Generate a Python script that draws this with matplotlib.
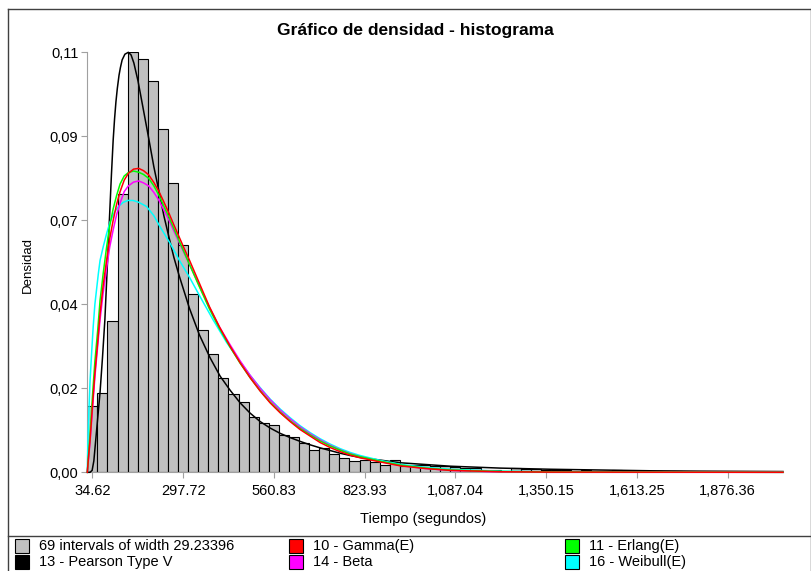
import numpy as np
import matplotlib.pyplot as plt
from matplotlib.patches import Rectangle
from matplotlib.lines import Line2D

plt.rcParams['font.family'] = ['Liberation Sans', 'DejaVu Sans']

# histogram: 69 bins, relative frequency per bin
bin_width = 29.23396
first_center = 34.62
density = [0.0174, 0.0207, 0.0395, 0.0730, 0.1100, 0.1082, 0.1024, 0.0899, 0.0758,
           0.0594, 0.0466, 0.0374, 0.0309, 0.0248, 0.0204, 0.0184, 0.0146, 0.0130,
           0.0124, 0.0098, 0.0093, 0.0076, 0.0058, 0.0063, 0.0048, 0.0037, 0.0029,
           0.0033, 0.0026, 0.0019, 0.0033, 0.0017, 0.0018, 0.0018, 0.0017, 0.0017,
           0.0015, 0.0011, 0.0010, 0.0006, 0.0006, 0.0004, 0.0011, 0.0009, 0.0008,
           0.0006, 0.0005, 0.0006, 0.0004, 0.0005, 0.0004, 0.0004, 0.0005, 0.0003,
           0.0004, 0.0003, 0.0003, 0.0002, 0.0003, 0.0002, 0.0001, 0.0002, 0.0001,
           0.0001, 0.0001, 0.0001, 0.0001, 0.0000, 0.0001]

xtick_labels = ['34.62', '297.72', '560.83', '823.93', '1,087.04', '1,350.15',
                '1,613.25', '1,876.36']
ytick_labels = ['0,00', '0,02', '0,04', '0,07', '0,09', '0,11']
y_max = 0.11

grid_x = [20, 24, 28, 35, 42, 50, 57, 66, 76, 85, 95, 105, 115, 127, 139, 154, 169,
          183, 198, 213, 228, 242, 257, 271, 286, 301, 316, 345, 374, 403, 434, 463,
          492, 521, 550, 579, 608, 637, 666, 695, 724, 753, 782, 811, 870, 927, 1000,
          1072, 1217, 1362, 2037]
gamma_y = [0, 0.0045, 0.0085, 0.0175, 0.026, 0.034, 0.0416, 0.049, 0.0556, 0.0612,
           0.066, 0.0702, 0.0735, 0.0765, 0.0783, 0.0794, 0.0796, 0.0790, 0.0779,
           0.0759, 0.0735, 0.0708, 0.0678, 0.0648, 0.0617, 0.0586, 0.0556, 0.0495,
           0.0434, 0.0381, 0.0330, 0.0287, 0.0248, 0.0213, 0.0182, 0.0156, 0.0133,
           0.0112, 0.0095, 0.0078, 0.0065, 0.0054, 0.0045, 0.0038, 0.0027, 0.0017,
           0.0010, 0.0005, 0.00015, 0.00005, 0]
erlang_y = [0, 0.005, 0.010, 0.020, 0.029, 0.037, 0.045, 0.052, 0.059, 0.0645, 0.069,
            0.0725, 0.0755, 0.0776, 0.0785, 0.0789, 0.0786, 0.0780, 0.0770, 0.0750,
            0.0725, 0.0697, 0.0668, 0.0638, 0.0607, 0.0576, 0.0545, 0.0486, 0.0428,
            0.0377, 0.0328, 0.0286, 0.0248, 0.0214, 0.0184, 0.0158, 0.0135, 0.0115,
            0.0098, 0.0082, 0.0069, 0.0058, 0.0048, 0.0041, 0.0029, 0.0019, 0.0011,
            0.0006, 0.0002, 0.00008, 0]
beta_y = [0, 0.004, 0.008, 0.0165, 0.025, 0.033, 0.040, 0.047, 0.0535, 0.059, 0.0635,
          0.0675, 0.0705, 0.0735, 0.0750, 0.0760, 0.0763, 0.0758, 0.0750, 0.0733,
          0.0712, 0.0687, 0.0660, 0.0632, 0.0603, 0.0574, 0.0545, 0.0488, 0.0432,
          0.0381, 0.0334, 0.0292, 0.0254, 0.0220, 0.0190, 0.0163, 0.0140, 0.0119,
          0.0101, 0.0085, 0.0071, 0.0059, 0.0049, 0.0041, 0.0028, 0.0018, 0.0010,
          0.0005, 0.0001, 0, 0]

weibull_x = [20, 21.5, 23.5, 25, 28, 33, 37, 42, 47, 52, 57, 66, 76, 86, 98, 110, 124,
             138, 152, 167, 182, 192, 213, 231, 260, 289, 318, 347, 385, 424, 463, 492,
             521, 550, 579, 608, 637, 666, 695, 724, 753, 782, 811, 870, 927, 1000,
             1072, 1217, 1362, 2037]
weibull_y = [0, 0.007, 0.013, 0.017, 0.024, 0.032, 0.038, 0.044, 0.048, 0.052, 0.0555,
             0.059, 0.0625, 0.0656, 0.068, 0.0696, 0.0707, 0.0712, 0.0712, 0.0708,
             0.0701, 0.0696, 0.0672, 0.0643, 0.0600, 0.0552, 0.0508, 0.0460, 0.0399,
             0.0340, 0.0290, 0.0254, 0.0222, 0.0192, 0.0166, 0.0143, 0.0122, 0.0104,
             0.0088, 0.0074, 0.0062, 0.0052, 0.0044, 0.0031, 0.0021, 0.0013, 0.0008,
             0.0003, 0.0001, 0]

pearson_x = [20, 28, 34, 39, 45, 51, 57, 64, 71, 77, 84, 90, 95, 99, 103, 107, 112,
             116, 121, 129, 139, 147, 155, 167, 181.5, 198, 213, 228, 242, 257, 271,
             286, 316, 345, 376, 405, 434, 463, 492, 521, 550, 579, 608, 637, 666, 695,
             724, 753, 782, 811, 927, 1072, 1217, 1362, 1507, 1652, 1797, 2037]
pearson_y = [0, 0.0, 0.0005, 0.003, 0.009, 0.015, 0.021, 0.030, 0.040, 0.052, 0.066,
             0.078, 0.087, 0.0925, 0.097, 0.1005, 0.104, 0.106, 0.108, 0.1095, 0.1100,
             0.1093, 0.1072, 0.1025, 0.0955, 0.0875, 0.0800, 0.0735, 0.0672, 0.0615,
             0.0563, 0.0516, 0.0430, 0.0360, 0.0300, 0.0252, 0.0215, 0.0182, 0.0155,
             0.0133, 0.0116, 0.0102, 0.0091, 0.0081, 0.0072, 0.0064, 0.0057, 0.0050,
             0.0044, 0.0039, 0.0025, 0.0016, 0.0011, 0.0008, 0.0006, 0.0004, 0.0003,
             0.0002]

W, H = 812, 571
def fx(px): return px / W
def fy(py): return 1 - py / H

fig = plt.figure(figsize=(W / 100, H / 100), dpi=100)
ax = fig.add_axes([fx(87.3), fy(472.3), (783 - 87.3) / W, (472.3 - 52.3) / H])

centers = first_center + bin_width * np.arange(len(density))
ax.bar(centers, density, width=bin_width, color='#c0c0c0', edgecolor='black',
       linewidth=0.8, zorder=2)

# draw order: black first, red last on top
curves = [(pearson_x, pearson_y, 'black'),
          (weibull_x, weibull_y, '#00ffff'),
          (grid_x, beta_y, '#ff00ff'),
          (grid_x, erlang_y, '#00ff00'),
          (grid_x, gamma_y, '#ff0000')]
for cx, cy, col in curves:
    ax.plot(cx, cy, color=col, lw=1.1, clip_on=False, zorder=3)

ax.set_xlim(centers[0] - bin_width / 2, centers[-1] + bin_width / 2)
ax.set_ylim(0, y_max)
ax.set_xticks([float(t.replace(',', '')) for t in xtick_labels])
ax.set_xticklabels(xtick_labels)
ax.set_yticks(np.linspace(0, y_max, len(ytick_labels)))
ax.set_yticklabels(ytick_labels)
ax.tick_params(axis='both', direction='out', color='#a0a0a0', length=4.5,
               labelsize=10.5, width=0.8)
ax.tick_params(axis='y', pad=2)
ax.tick_params(axis='x', pad=4)
for s in ['top', 'right']:
    ax.spines[s].set_visible(False)
for s in ['left', 'bottom']:
    ax.spines[s].set_color('#a0a0a0')
    ax.spines[s].set_linewidth(0.8)

fig.text(fx(415), fy(30), 'Gráfico de densidad - histograma', ha='center',
         va='center', fontsize=12.5, fontweight='bold')
fig.text(fx(423), fy(519), 'Tiempo (segundos)', ha='center', va='center', fontsize=10.5)
fig.text(fx(28), fy(265), 'Densidad', rotation=90, ha='center', va='center', fontsize=9.5)

# outer frame and legend separator
frame = dict(color='#404040', lw=1, transform=fig.transFigure)
fig.add_artist(Line2D([fx(8), fx(8)], [fy(9), 0], **frame))
fig.add_artist(Line2D([fx(8), fx(811.5)], [fy(9), fy(9)], **frame))
fig.add_artist(Line2D([fx(811.5), fx(811.5)], [fy(9), 0], **frame))
fig.add_artist(Line2D([fx(8), fx(811.5)], [fy(536), fy(536)], **frame))

legend_labels = ['69 intervals of width 29.23396', '10 - Gamma(E)', '11 - Erlang(E)',
                 '13 - Pearson Type V', '14 - Beta', '16 - Weibull(E)']
legend_colors = ['#c0c0c0', '#ff0000', '#00ff00', 'black', '#ff00ff', '#00ffff']
col_x = [15, 289, 565]
row_y = [546, 562]
for i, (lab, col) in enumerate(zip(legend_labels, legend_colors)):
    x0 = col_x[i % 3]
    yc = row_y[i // 3]
    fig.add_artist(Rectangle((fx(x0), fy(yc + 7)), 14 / W, 14 / H,
                             transform=fig.transFigure, facecolor=col,
                             edgecolor='black', lw=0.8))
    fig.text(fx(x0 + 24), fy(yc), lab, ha='left', va='center', fontsize=10.5)

fig.savefig('out.png', dpi=100)
